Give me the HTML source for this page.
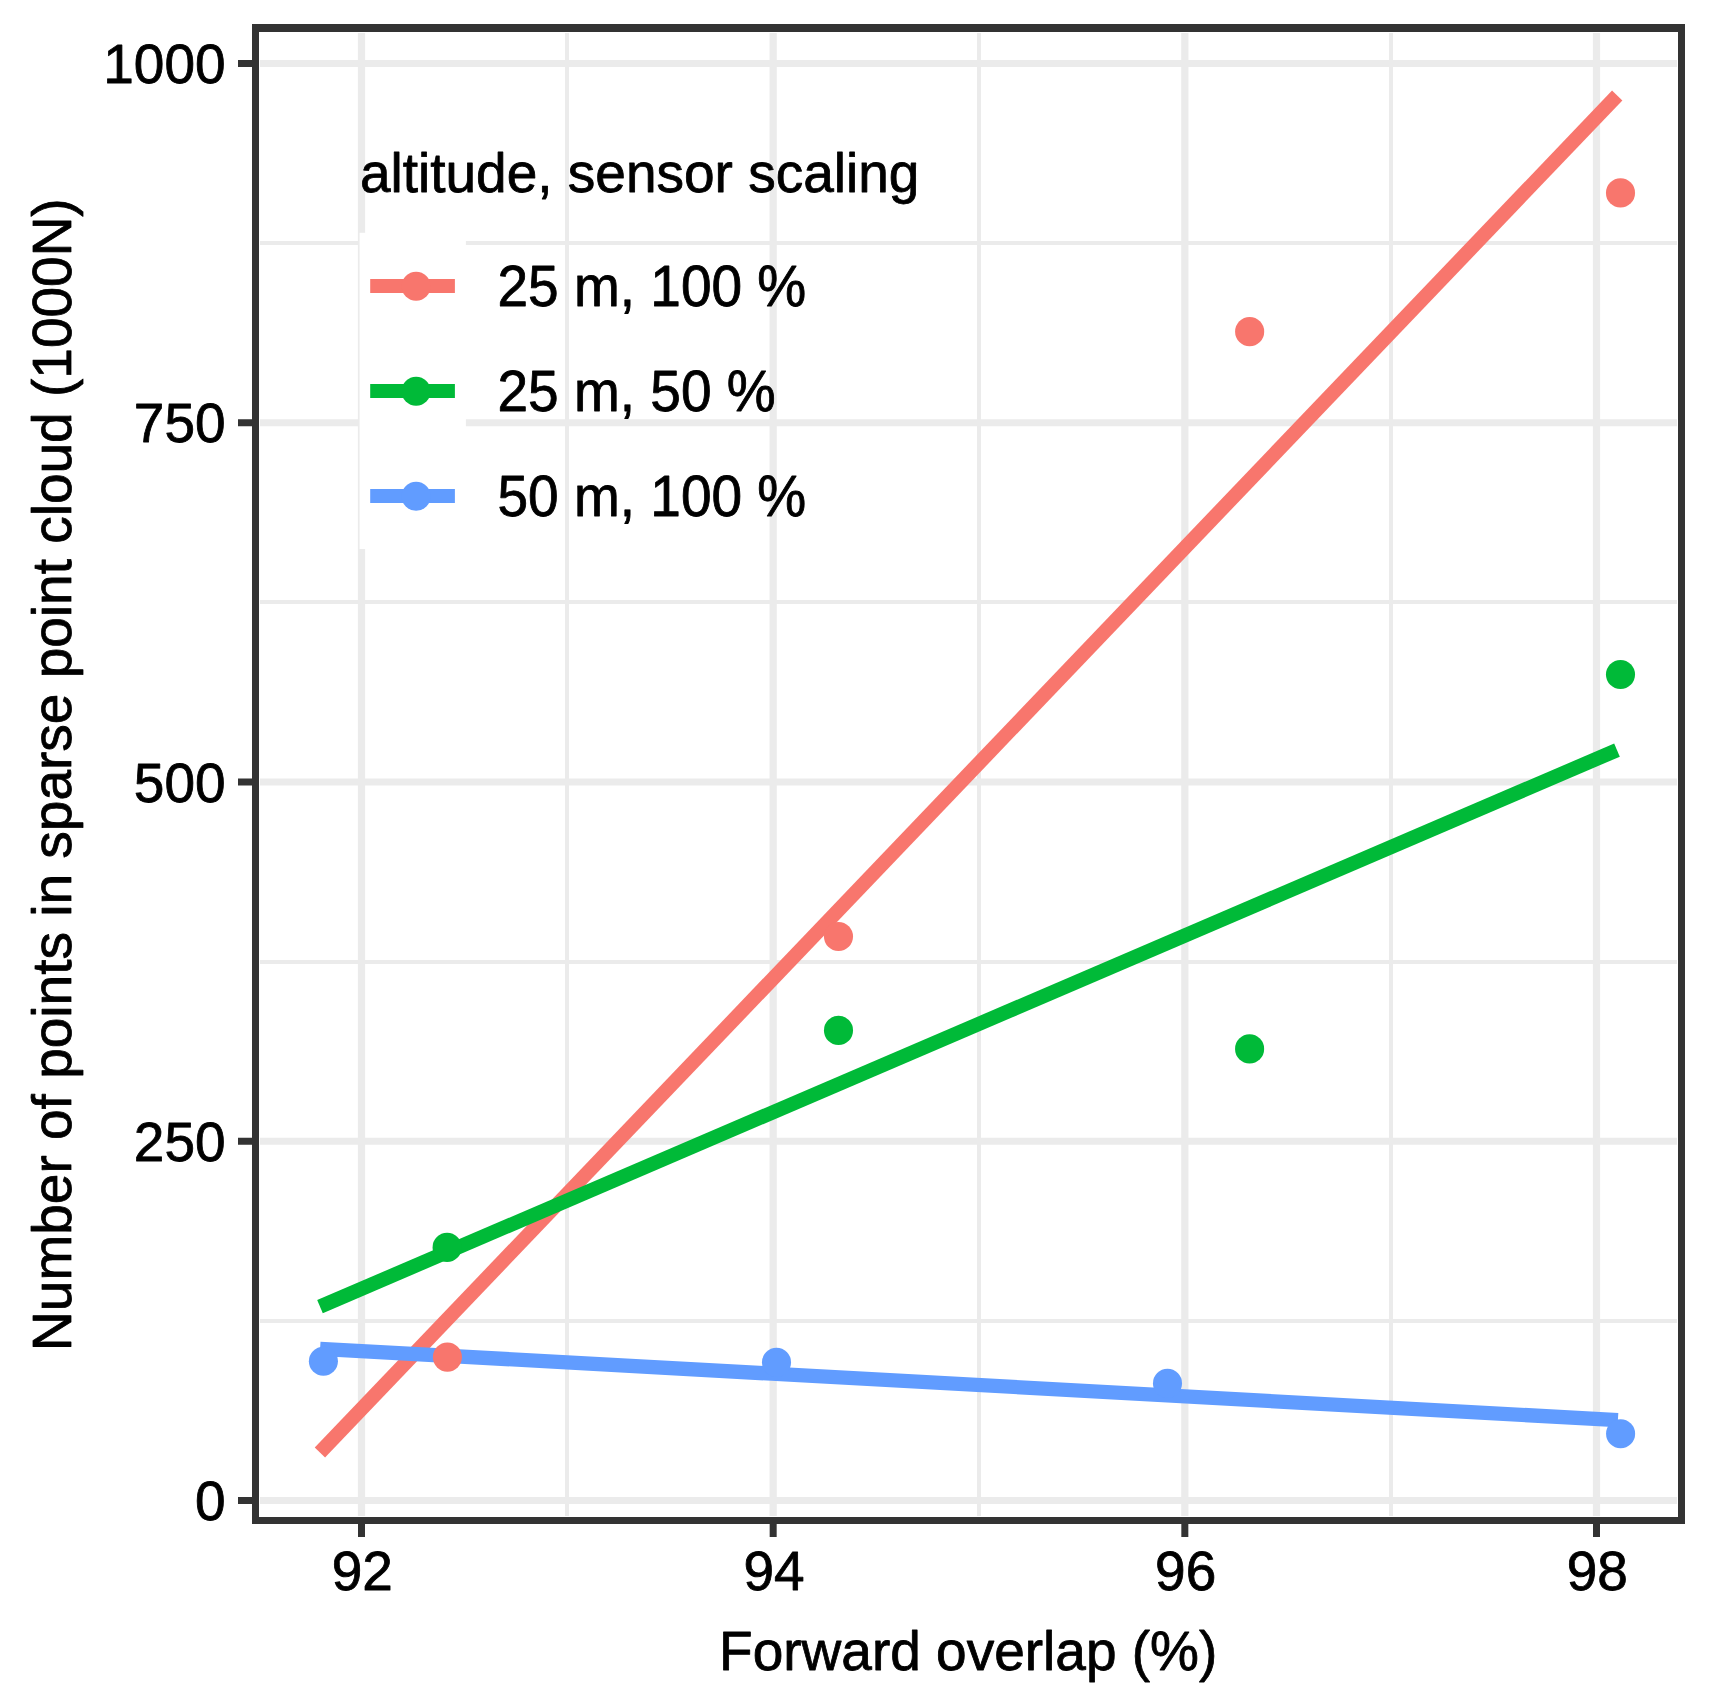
<!DOCTYPE html>
<html lang="en">
<head>
<meta charset="utf-8">
<title>Forward overlap vs sparse point cloud</title>
<style>
html,body{margin:0;padding:0;background:#fff;}
body{width:1716px;height:1699px;overflow:hidden;}
svg{display:block;}
text{font-family:"Liberation Sans",Arial,Helvetica,sans-serif;font-size:55px;fill:#000;stroke:#000;stroke-width:0.8px;stroke-linejoin:round;}
</style>
</head>
<body>
<svg width="1716" height="1699" viewBox="0 0 1716 1699">
<rect x="0" y="0" width="1716" height="1699" fill="#ffffff"/>
<g stroke="#EBEBEB" stroke-width="4" fill="none">
<line x1="260" x2="1677" y1="1321.00" y2="1321.00"/>
<line x1="260" x2="1677" y1="962.00" y2="962.00"/>
<line x1="260" x2="1677" y1="602.00" y2="602.00"/>
<line x1="260" x2="1677" y1="243.00" y2="243.00"/>
<line y1="33" y2="1516" x1="567.00" x2="567.00"/>
<line y1="33" y2="1516" x1="979.00" x2="979.00"/>
<line y1="33" y2="1516" x1="1391.00" x2="1391.00"/>
</g>
<g stroke="#EBEBEB" stroke-width="7.2" fill="none">
<line x1="260" x2="1677" y1="1500.50" y2="1500.50"/>
<line x1="260" x2="1677" y1="1141.25" y2="1141.25"/>
<line x1="260" x2="1677" y1="782.00" y2="782.00"/>
<line x1="260" x2="1677" y1="422.75" y2="422.75"/>
<line x1="260" x2="1677" y1="63.50" y2="63.50"/>
<line y1="33" y2="1516" x1="361.50" x2="361.50"/>
<line y1="33" y2="1516" x1="773.17" x2="773.17"/>
<line y1="33" y2="1516" x1="1184.83" x2="1184.83"/>
<line y1="33" y2="1516" x1="1596.50" x2="1596.50"/>
</g>
<g stroke-width="14.3" fill="none" stroke-linecap="butt">
<line x1="319.9" y1="1452.5" x2="1617.2" y2="95.5" stroke="#F8766D"/>
<line x1="320.0" y1="1306.6" x2="1617.0" y2="750.1" stroke="#00BA38"/>
<line x1="320.1" y1="1348.8" x2="1617.9" y2="1420.2" stroke="#619CFF"/>
</g>
<g fill="#F8766D">
<circle cx="447.40" cy="1357.10" r="14.55"/>
<circle cx="838.50" cy="936.50" r="14.55"/>
<circle cx="1249.65" cy="331.65" r="14.55"/>
<circle cx="1620.50" cy="192.90" r="14.55"/>
</g>
<g fill="#00BA38">
<circle cx="447.10" cy="1247.40" r="14.55"/>
<circle cx="838.50" cy="1030.40" r="14.55"/>
<circle cx="1249.60" cy="1048.90" r="14.55"/>
<circle cx="1620.50" cy="674.45" r="14.55"/>
</g>
<g fill="#619CFF">
<circle cx="323.40" cy="1361.30" r="14.55"/>
<circle cx="776.50" cy="1362.40" r="14.55"/>
<circle cx="1167.50" cy="1383.40" r="14.55"/>
<circle cx="1620.60" cy="1433.70" r="14.55"/>
</g>
<path fill="#333333" fill-rule="evenodd" d="M252 24H1685V1524H252Z M259 32H1678V1517H259Z"/>
<g fill="#333333">
<rect x="238" y="1497.00" width="14" height="7"/>
<rect x="238" y="1137.75" width="14" height="7"/>
<rect x="238" y="778.50" width="14" height="7"/>
<rect x="238" y="419.25" width="14" height="7"/>
<rect x="238" y="60.00" width="14" height="7"/>
<rect x="358.00" y="1524" width="7" height="13"/>
<rect x="769.67" y="1524" width="7" height="13"/>
<rect x="1181.33" y="1524" width="7" height="13"/>
<rect x="1593.00" y="1524" width="7" height="13"/>
</g>
<text transform="translate(225.6 1520.00) scale(1 1.025)" text-anchor="end">0</text>
<text transform="translate(225.6 1160.75) scale(1 1.025)" text-anchor="end">250</text>
<text transform="translate(225.6 801.50) scale(1 1.025)" text-anchor="end">500</text>
<text transform="translate(225.6 442.25) scale(1 1.025)" text-anchor="end">750</text>
<text transform="translate(225.6 83.00) scale(1 1.025)" text-anchor="end">1000</text>
<text transform="translate(362.30 1589.5) scale(1 1.015)" text-anchor="middle">92</text>
<text transform="translate(773.97 1589.5) scale(1 1.015)" text-anchor="middle">94</text>
<text transform="translate(1185.63 1589.5) scale(1 1.015)" text-anchor="middle">96</text>
<text transform="translate(1597.30 1589.5) scale(1 1.015)" text-anchor="middle">98</text>
<text x="968.2" y="1670.4" text-anchor="middle">Forward overlap (%)</text>
<text transform="translate(71.4 774.6) rotate(-90)" text-anchor="middle">Number of points in sparse point cloud (1000N)</text>
<rect x="359.6" y="232.8" width="106.3" height="316.2" fill="#ffffff"/>
<text x="359.9" y="192.2">altitude, sensor scaling</text>
<line x1="370.2" x2="454.9" y1="285.90" y2="285.90" stroke="#F8766D" stroke-width="14"/>
<circle cx="416.1" cy="286.20" r="14.55" fill="#F8766D"/>
<text transform="translate(497.5 305.70) scale(1 1.035)">25 m, 100 %</text>
<line x1="370.2" x2="454.9" y1="391.00" y2="391.00" stroke="#00BA38" stroke-width="14"/>
<circle cx="416.1" cy="391.30" r="14.55" fill="#00BA38"/>
<text transform="translate(497.5 410.80) scale(1 1.035)">25 m, 50 %</text>
<line x1="370.2" x2="454.9" y1="496.00" y2="496.00" stroke="#619CFF" stroke-width="14"/>
<circle cx="416.1" cy="496.30" r="14.55" fill="#619CFF"/>
<text transform="translate(497.5 515.80) scale(1 1.035)">50 m, 100 %</text>
</svg>
</body>
</html>
